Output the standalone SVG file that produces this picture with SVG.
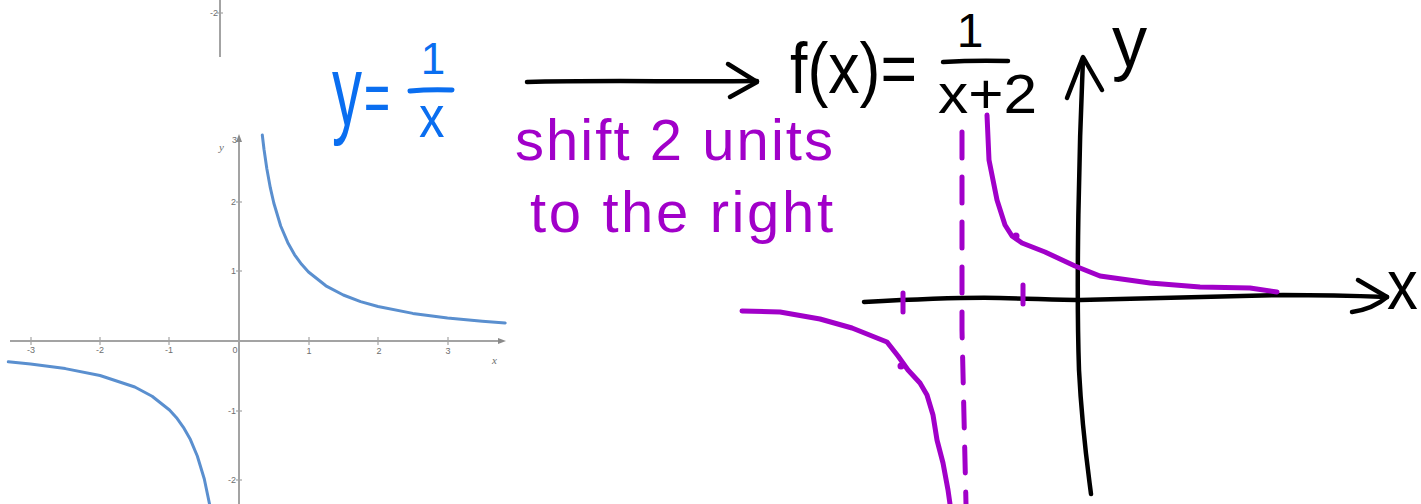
<svg xmlns="http://www.w3.org/2000/svg" width="1421" height="504" viewBox="0 0 1421 504">
<style>
.ax{stroke:#a3a3a3;stroke-width:2;fill:none}
.tk{stroke:#a3a3a3;stroke-width:1.2}
.lbl{font-family:"Liberation Sans",Arial,sans-serif;font-size:9px;fill:#6e6e6e}
.it{font-family:"Liberation Serif",serif;font-style:italic;font-size:11px;fill:#6e6e6e}
.curve{stroke:#5a8fcf;stroke-width:3;fill:none;stroke-linejoin:round;stroke-linecap:round}
.blue{fill:#0a6ef0;font-family:"Liberation Sans",Arial,sans-serif}
.blk{fill:#000;font-family:"Liberation Sans",Arial,sans-serif}
.pur{fill:#a100c9;font-family:"Liberation Sans",Arial,sans-serif;font-size:58px}
.ink{fill:none;stroke-linecap:round;stroke-linejoin:round}
.kb{stroke:#000;stroke-width:4.5}
.kp{stroke:#a100c9;stroke-width:5}
.kbl{stroke:#0a6ef0;stroke-width:5}
</style>

<g id="graph-top-fragment">
  <line class="ax" x1="220" y1="0" x2="220" y2="57"/>
  <line class="tk" x1="217" y1="13" x2="223" y2="13"/>
  <text class="lbl" x="218" y="16" text-anchor="end">-2</text>
</g>

<g id="graph-reciprocal">
  <line class="ax" x1="239" y1="140" x2="239" y2="504"/>
  <polygon points="239,134 236,142 242,142" fill="#8a8a8a"/>
  <line class="ax" x1="10" y1="341" x2="500" y2="341"/>
  <polygon points="506,341 498,338 498,344" fill="#8a8a8a"/>
  <g>
    <line class="tk" x1="31" y1="337" x2="31" y2="345"/>
    <line class="tk" x1="100" y1="337" x2="100" y2="345"/>
    <line class="tk" x1="169" y1="337" x2="169" y2="345"/>
    <line class="tk" x1="309" y1="337" x2="309" y2="345"/>
    <line class="tk" x1="378" y1="337" x2="378" y2="345"/>
    <line class="tk" x1="448" y1="337" x2="448" y2="345"/>
    <line class="tk" x1="236" y1="202" x2="242" y2="202"/>
    <line class="tk" x1="236" y1="271" x2="242" y2="271"/>
    <line class="tk" x1="236" y1="411" x2="242" y2="411"/>
    <line class="tk" x1="236" y1="480" x2="242" y2="480"/>
  </g>
  <text class="lbl" x="31" y="353" text-anchor="middle">-3</text>
  <text class="lbl" x="100" y="353" text-anchor="middle">-2</text>
  <text class="lbl" x="169" y="353" text-anchor="middle">-1</text>
  <text class="lbl" x="235" y="353" text-anchor="middle">0</text>
  <text class="lbl" x="309" y="354" text-anchor="middle">1</text>
  <text class="lbl" x="379" y="354" text-anchor="middle">2</text>
  <text class="lbl" x="448" y="354" text-anchor="middle">3</text>
  <text class="lbl" x="237" y="143" text-anchor="end">3</text>
  <text class="lbl" x="236" y="205" text-anchor="end">2</text>
  <text class="lbl" x="236" y="274" text-anchor="end">1</text>
  <text class="lbl" x="236" y="414" text-anchor="end">-1</text>
  <text class="lbl" x="236" y="483" text-anchor="end">-2</text>
  <text class="it" x="219" y="151">y</text>
  <text class="it" x="492" y="364">x</text>
  <path class="curve" d="M262.3,135 L264,149.3 L266.8,168.5 L270.3,187.7 L273.8,203 L280.7,226 L287.7,242.4 L294.6,254.8 L301.6,264.3 L308.5,272 L325.9,285.8 L343.3,295 L360.6,301.6 L378,306.5 L412.8,313.4 L447.5,318 L482.3,321.3 L505.2,323"/>
  <path class="curve" d="M8.3,361.8 L30.5,364 L65.3,368.6 L100,375.5 L134.8,387 L152.1,396.2 L169.5,410 L176.5,417.7 L183.4,427.3 L190.4,439.6 L197.3,456 L204.3,479 L209.8,505.3"/>
</g>

<g id="eq-blue">
  <text class="blue" font-size="100" transform="translate(332,125) scale(0.6,1)">y</text>
  <text class="blue" font-size="72" transform="translate(364,122) scale(0.62,1)">=</text>
  <text class="blue" font-size="44" x="433" y="74" text-anchor="middle">1</text>
  <path class="ink kbl" d="M410,91 Q430,89 452,90"/>
  <text class="blue" font-size="60" transform="translate(419,137) scale(0.85,1)">x</text>
</g>

<g id="connectors">
  <path class="ink kb" d="M527,82 C600,80 680,82 757,81"/>
  <path class="ink kb" d="M728,64 L757,82 L730,97"/>
</g>

<g id="caption">
  <text class="pur" x="515" y="160" textLength="318" lengthAdjust="spacing">shift 2 units</text>
  <text class="pur" x="530" y="232" textLength="303" lengthAdjust="spacing">to the right</text>
</g>

<g id="eq-black">
  <text class="blk" font-size="72" x="790" y="93" textLength="127" lengthAdjust="spacingAndGlyphs">f(x)=</text>
  <text class="blk" font-size="48" x="970" y="47" text-anchor="middle">1</text>
  <path class="ink kb" d="M943,62 Q975,60 1008,61"/>
  <text class="blk" font-size="56" x="938" y="113" textLength="99" lengthAdjust="spacingAndGlyphs">x+2</text>
</g>

<g id="graph-shifted">
  <path class="ink kb" d="M1083,58 C1079,150 1076,280 1079,370 C1082,430 1088,470 1091,494"/>
  <path class="ink kb" d="M1067,98 L1083,57 L1102,90"/>
  <text class="blk" font-size="74" transform="translate(1112,67) scale(0.95,1)">y</text>
  <path class="ink kb" d="M864,302 C920,299 960,297 1000,298 C1040,299 1060,300 1080,300 C1150,298 1220,296 1283,295 C1330,295 1360,296 1387,297"/>
  <path class="ink kb" d="M1358,280 L1387,297 M1352,312 Q1373,309 1387,297"/>
  <text class="blk" font-size="70" transform="translate(1387,309) scale(0.88,1)">x</text>
  <path class="ink kp" d="M903,293 L903,312 M1023,285 L1023,304"/>
  <path class="ink kp" d="M962,132 L962,330 L966,504" stroke-dasharray="26 19"/>
  <path class="ink kp" d="M987,115 L989,160 L997,200 L1005,225 L1012,236 L1022,243 L1045,252 L1075,266 L1100,276 L1150,283 L1200,287 L1250,288 L1277,292"/>
  <path class="ink kp" d="M742,311 L780,312 L820,319 L852,328 L887,342 L898,356 L908,370 L920,383 L927,395 L933,415 L937,440 L943,463 L948,490 L950,504"/>
  <circle cx="1016" cy="236" r="3.5" fill="#a100c9"/>
  <circle cx="901" cy="366" r="3.5" fill="#a100c9"/>
</g>
</svg>
